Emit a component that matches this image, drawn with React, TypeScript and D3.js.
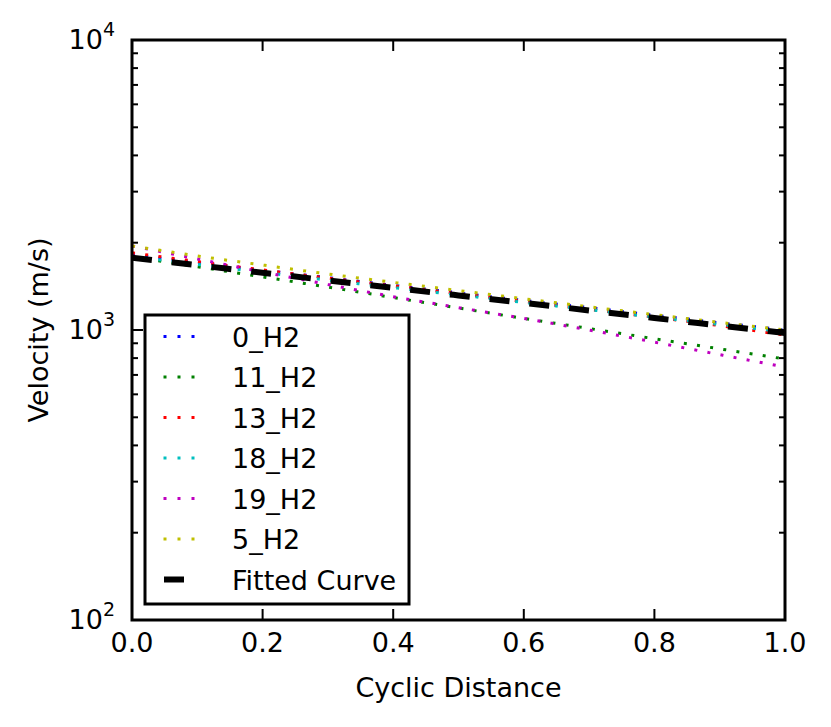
import React, { useEffect, useRef } from "react";
import * as d3 from "d3";

// sample positions along the cyclic distance
const xValues = [0, 0.1, 0.2, 0.3, 0.4, 0.5, 0.6, 0.7, 0.8, 0.9, 1.0];

// velocities (m/s)
const series0H2 = [1820, 1710, 1607, 1514, 1426, 1343, 1265, 1194, 1125, 1059, 1000];
const series11H2 = [1791, 1652, 1524, 1406, 1294, 1191, 1096, 1012, 933, 861, 794];
const series13H2 = [1845, 1722, 1611, 1510, 1419, 1334, 1253, 1178, 1107, 1035, 960];
const series18H2 = [1791, 1683, 1581, 1486, 1400, 1321, 1245, 1175, 1107, 1045, 984];
const series19H2 = [1950, 1758, 1585, 1435, 1303, 1194, 1096, 1000, 908, 822, 745];
const series5H2 = [1950, 1800, 1675, 1560, 1460, 1368, 1282, 1202, 1130, 1062, 1000];
const fittedCurve = [1775, 1672, 1575, 1483, 1397, 1316, 1240, 1168, 1100, 1036, 976];

const seriesNames = ["0_H2", "11_H2", "13_H2", "18_H2", "19_H2", "5_H2"];
const seriesColors = ["#0000ff", "#008000", "#ff0000", "#00bfbf", "#bf00bf", "#bfbf00"];
const seriesValues = [series0H2, series11H2, series13H2, series18H2, series19H2, series5H2];
const fittedName = "Fitted Curve";

const xTicks = [0, 0.2, 0.4, 0.6, 0.8, 1.0];
const yMajorTicks = [100, 1000, 10000];
const yExponents = ["2", "3", "4"];

const WIDTH = 831;
const HEIGHT = 727;
const FONT = "'DejaVu Sans', sans-serif";

const App: React.FC = () => {
  const svgRef = useRef<SVGSVGElement | null>(null);

  useEffect(() => {
    if (!svgRef.current) return;
    const svg = d3.select(svgRef.current);
    svg.selectAll("*").remove();

    const margin = { top: 40, right: 46, bottom: 107, left: 132 };
    const left = margin.left;
    const right = WIDTH - margin.right;
    const top = margin.top;
    const bottom = HEIGHT - margin.bottom;

    const x = d3.scaleLinear().domain([0, 1]).range([left, right]);
    const y = d3.scaleLog().domain([100, 10000]).range([bottom, top]);

    svg.append("rect").attr("width", WIDTH).attr("height", HEIGHT).attr("fill", "#fff");

    svg
      .append("defs")
      .append("clipPath")
      .attr("id", "plot-clip")
      .append("rect")
      .attr("x", left)
      .attr("y", top)
      .attr("width", right - left)
      .attr("height", bottom - top);

    const plot = svg.append("g").attr("clip-path", "url(#plot-clip)");

    const line = d3
      .line<number>()
      .x((_, i) => x(xValues[i]))
      .y((d) => y(d))
      .curve(d3.curveMonotoneX);

    seriesValues.forEach((vals, i) => {
      plot
        .append("path")
        .attr("d", line(vals))
        .attr("fill", "none")
        .attr("stroke", seriesColors[i])
        .attr("stroke-width", 3)
        .attr("stroke-dasharray", "3 10.3");
    });

    plot
      .append("path")
      .attr("d", line(fittedCurve))
      .attr("fill", "none")
      .attr("stroke", "#000")
      .attr("stroke-width", 6)
      .attr("stroke-dasharray", "20 20");

    // ticks (inward, on all four sides)
    const ticks = svg.append("g").attr("stroke", "#000").attr("stroke-width", 2);
    xTicks.forEach((t) => {
      ticks.append("line").attr("x1", x(t)).attr("x2", x(t)).attr("y1", bottom).attr("y2", bottom - 11);
      ticks.append("line").attr("x1", x(t)).attr("x2", x(t)).attr("y1", top).attr("y2", top + 11);
    });
    yMajorTicks.forEach((t) => {
      ticks.append("line").attr("x1", left).attr("x2", left + 11).attr("y1", y(t)).attr("y2", y(t));
      ticks.append("line").attr("x1", right).attr("x2", right - 11).attr("y1", y(t)).attr("y2", y(t));
    });
    const minor = y.ticks().filter((t) => !yMajorTicks.includes(t));
    minor.forEach((t) => {
      ticks.append("line").attr("x1", left).attr("x2", left + 6).attr("y1", y(t)).attr("y2", y(t));
      ticks.append("line").attr("x1", right).attr("x2", right - 6).attr("y1", y(t)).attr("y2", y(t));
    });

    // spines
    svg
      .append("rect")
      .attr("x", left)
      .attr("y", top)
      .attr("width", right - left)
      .attr("height", bottom - top)
      .attr("fill", "none")
      .attr("stroke", "#000")
      .attr("stroke-width", 3);

    const text = svg.append("g").attr("font-family", FONT).attr("fill", "#000");

    xTicks.forEach((t) => {
      text
        .append("text")
        .attr("x", x(t))
        .attr("y", bottom + 32)
        .attr("text-anchor", "middle")
        .attr("font-size", 27)
        .text(d3.format(".1f")(t));
    });

    yMajorTicks.forEach((t, i) => {
      const label = text
        .append("text")
        .attr("x", left - 17)
        .attr("y", y(t) + 9)
        .attr("text-anchor", "end")
        .attr("font-size", 27);
      label.append("tspan").text("10");
      label.append("tspan").attr("dy", -13).attr("font-size", 19).text(yExponents[i]);
    });

    text
      .append("text")
      .attr("x", (left + right) / 2)
      .attr("y", 697)
      .attr("text-anchor", "middle")
      .attr("font-size", 27)
      .text("Cyclic Distance");

    text
      .append("text")
      .attr("transform", `translate(48,${(top + bottom) / 2}) rotate(-90)`)
      .attr("text-anchor", "middle")
      .attr("font-size", 27)
      .text("Velocity (m/s)");

    // legend
    const legend = svg.append("g");
    legend
      .append("rect")
      .attr("x", 145)
      .attr("y", 315)
      .attr("width", 264)
      .attr("height", 289)
      .attr("fill", "#fff")
      .attr("stroke", "#000")
      .attr("stroke-width", 3);

    const rowY = (i: number) => 336.5 + i * 40.5;
    seriesNames.forEach((name, i) => {
      legend
        .append("line")
        .attr("x1", 163.5)
        .attr("x2", 197)
        .attr("y1", rowY(i))
        .attr("y2", rowY(i))
        .attr("stroke", seriesColors[i])
        .attr("stroke-width", 3)
        .attr("stroke-dasharray", "3 11");
      legend
        .append("text")
        .attr("x", 232)
        .attr("y", rowY(i) + 10)
        .attr("font-family", FONT)
        .attr("font-size", 27)
        .text(name);
    });
    const fi = seriesNames.length;
    legend
      .append("line")
      .attr("x1", 164)
      .attr("x2", 197)
      .attr("y1", rowY(fi))
      .attr("y2", rowY(fi))
      .attr("stroke", "#000")
      .attr("stroke-width", 6)
      .attr("stroke-dasharray", "20 20");
    legend
      .append("text")
      .attr("x", 232)
      .attr("y", rowY(fi) + 10)
      .attr("font-family", FONT)
      .attr("font-size", 27)
      .text(fittedName);
  }, []);

  return (
    <svg
      ref={svgRef}
      width={WIDTH}
      height={HEIGHT}
      style={{ position: "absolute", left: 0, top: 0 }}
    />
  );
};

export default App;
